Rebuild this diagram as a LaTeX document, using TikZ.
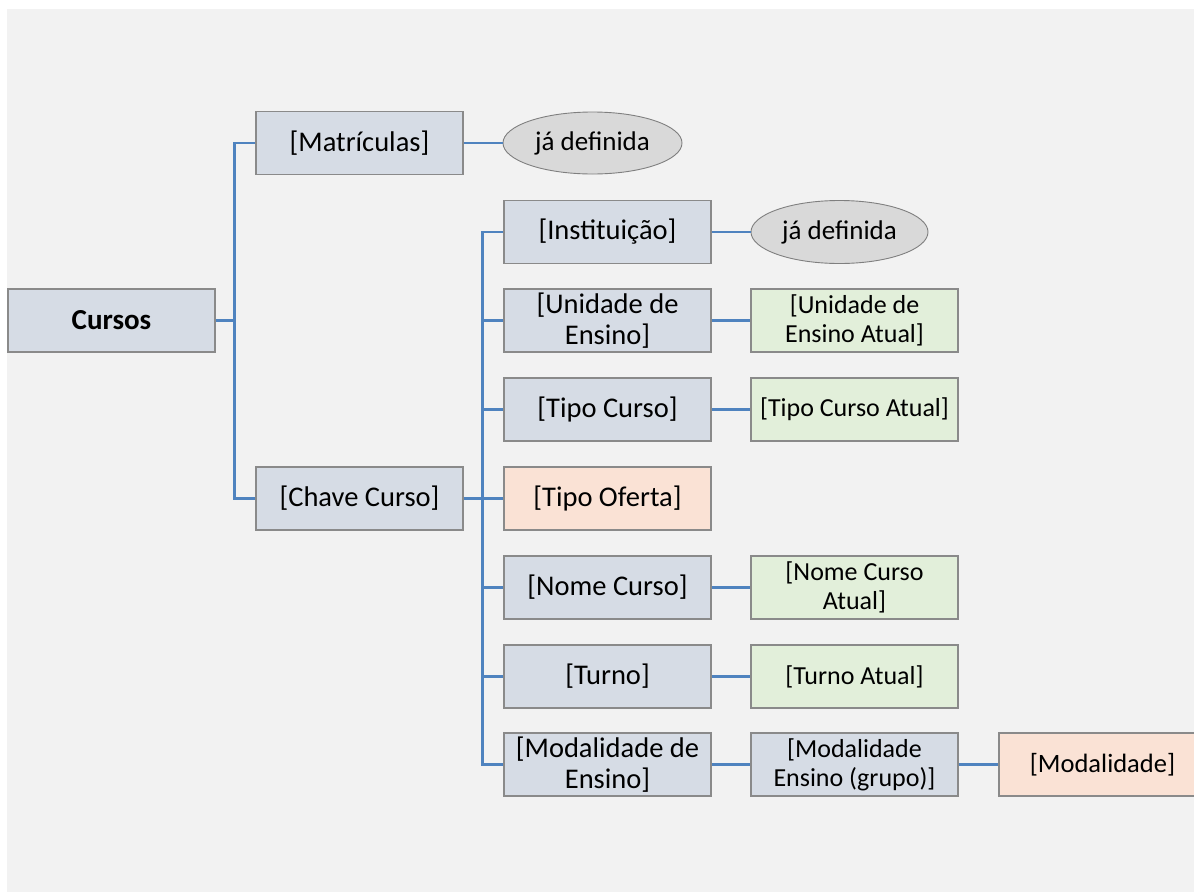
\documentclass[tikz,border=0pt]{standalone}
\usepackage{fontspec}
\setmainfont{Carlito}
\usetikzlibrary{shapes.geometric}
\definecolor{bg}{HTML}{F2F2F2}
\definecolor{boxfill}{HTML}{D6DCE5}
\definecolor{boxline}{HTML}{8A8A8A}
\definecolor{greenfill}{HTML}{E2EFDA}
\definecolor{peachfill}{HTML}{FAE2D5}
\definecolor{ellfill}{HTML}{D9D9D9}
\definecolor{ellline}{HTML}{7F7F7F}
\definecolor{conn}{HTML}{4F83BF}
\tikzset{
  base/.style={draw=boxline, line width=1.2pt, rectangle, minimum width=207pt, minimum height=63pt, inner sep=0pt, align=center},
  bluebox/.style={base, fill=boxfill, font=\fontsize{28.5}{31}\selectfont},
  bluesmall/.style={base, fill=boxfill, font=\fontsize{26}{29}\selectfont},
  greenbox/.style={base, fill=greenfill, font=\fontsize{26}{29}\selectfont},
  peachbox/.style={base, fill=peachfill, font=\fontsize{28.5}{31}\selectfont},
  peachsmall/.style={base, fill=peachfill, font=\fontsize{26.5}{29}\selectfont},
  oval/.style={ellipse, draw=ellline, line width=0.9pt, fill=ellfill, inner sep=0pt, font=\fontsize{27}{29}\selectfont},
  link/.style={draw=conn, line width=2.7pt}
}
\begin{document}
\begin{tikzpicture}[x=1pt,y=-1pt]
\useasboundingbox (0,0) rectangle (1194,892);
\fill[white] (0,0) rectangle (1194,892);
\fill[bg] (7,9) rectangle (1194,892);

\node[bluebox, font=\fontsize{29}{31}\selectfont\bfseries] (cursos) at (111.5,320.5) {Cursos};
\node[bluebox] (matr) at (359.5,143) {[Matrículas]};
\node[oval, minimum width=179pt, minimum height=62pt] (def1) at (592.5,143) {já definida};
\node[bluebox] (chave) at (359.5,498.5) {[Chave Curso]};

\node[bluebox] (inst) at (607.5,232) {[Instituição]};
\node[bluebox] (unid) at (607.5,320.5) {[Unidade de\\Ensino]};
\node[bluebox] (tipoc) at (607.5,409.5) {[Tipo Curso]};
\node[peachbox] (tipoo) at (607.5,498.5) {[Tipo Oferta]};
\node[bluebox] (nome) at (607.5,587.5) {[Nome Curso]};
\node[bluebox] (turno) at (607.5,676.5) {[Turno]};
\node[bluebox] (modens) at (607.5,764.5) {[Modalidade de\\Ensino]};

\node[oval, minimum width=177pt, minimum height=63pt] (def2) at (839.5,232) {já definida};
\node[greenbox] (unida) at (854.5,320.5) {[Unidade de\\Ensino Atual]};
\node[greenbox] (tipoca) at (854.5,409.5) {[Tipo Curso Atual]};
\node[greenbox] (nomea) at (854.5,587.5) {[Nome Curso\\Atual]};
\node[greenbox] (turnoa) at (854.5,676.5) {[Turno Atual]};
\node[bluesmall] (modgrp) at (854.5,764.5) {[Modalidade\\Ensino (grupo)]};
\node[peachsmall] (mod) at (1102.5,764.5) {[Modalidade]};

% connectors level 1
\draw[link] (cursos.east) -- ++(20,0);
\draw[link] (matr.west) -- ++(-21,0) |- (chave.west);
\draw[link] (matr.east) -- (def1.west);

% connectors level 2
\draw[link] (chave.east) -- ++(20,0);
\draw[link] (inst.west) -- ++(-21,0) |- (modens.west);
\foreach \n in {unid,tipoc,tipoo,nome,turno}{
  \draw[link] (\n.west) -- ++(-21,0);
}

% connectors level 3
\draw[link] (inst.east) -- (def2.west);
\draw[link] (unid.east) -- (unida.west);
\draw[link] (tipoc.east) -- (tipoca.west);
\draw[link] (nome.east) -- (nomea.west);
\draw[link] (turno.east) -- (turnoa.west);
\draw[link] (modens.east) -- (modgrp.west);
\draw[link] (modgrp.east) -- (mod.west);
\end{tikzpicture}
\end{document}
